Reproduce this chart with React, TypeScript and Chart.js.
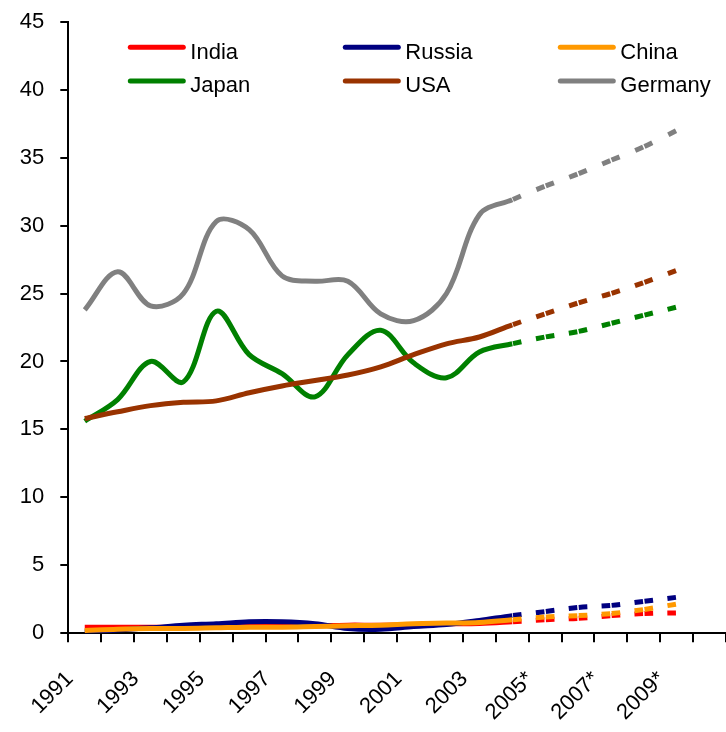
import { useEffect, useRef } from 'react';
import { Chart, registerables } from 'chart.js';

Chart.register(...registerables);

// Category axis: one entry per year, forecast years carry an asterisk.
const YEARS = [
  '1991', '1992', '1993', '1994', '1995', '1996', '1997', '1998', '1999', '2000',
  '2001', '2002', '2003', '2004', '2005*', '2006*', '2007*', '2008*', '2009*', '2010*',
];

// Index of the last measured year (2004); segments after it are forecasts.
const FORECAST_FROM = 13;

const INDIA = [0.45, 0.45, 0.45, 0.45, 0.45, 0.5, 0.5, 0.55, 0.6, 0.6, 0.65, 0.7, 0.72, 0.85, 1.0, 1.1, 1.3, 1.45, 1.5];
const RUSSIA = [0.1, 0.25, 0.4, 0.6, 0.7, 0.85, 0.85, 0.7, 0.35, 0.3, 0.5, 0.65, 0.95, 1.3, 1.6, 1.9, 2.05, 2.35, 2.65];
const CHINA = [0.2, 0.3, 0.35, 0.35, 0.4, 0.45, 0.45, 0.5, 0.55, 0.6, 0.7, 0.75, 0.8, 1.0, 1.2, 1.3, 1.45, 1.75, 2.15];
const JAPAN = [15.6, 17.2, 20.0, 18.5, 23.7, 20.5, 19.1, 17.4, 20.5, 22.3, 19.9, 18.8, 20.7, 21.3, 21.8, 22.2, 22.8, 23.4, 24.0];
const USA = [15.8, 16.3, 16.75, 17.0, 17.1, 17.7, 18.2, 18.6, 19.0, 19.6, 20.5, 21.3, 21.8, 22.7, 23.5, 24.3, 25.0, 25.8, 26.7];
const GERMANY = [23.8, 26.6, 24.1, 25.0, 30.3, 29.7, 26.3, 25.9, 25.9, 23.5, 23.0, 25.0, 30.8, 31.9, 32.9, 33.8, 34.8, 35.8, 37.0];

const SERIES = [
  { label: 'India', data: INDIA, color: '#FF0000' },
  { label: 'Russia', data: RUSSIA, color: '#000080' },
  { label: 'China', data: CHINA, color: '#FF9900' },
  { label: 'Japan', data: JAPAN, color: '#008000' },
  { label: 'USA', data: USA, color: '#993300' },
  { label: 'Germany', data: GERMANY, color: '#808080' },
];

const FONT = '"Liberation Sans", Arial, sans-serif';

// Forecast segments: a pair of short dashes centred on every data point.
const DASH = 8.5;
const SPLIT = 1.4;

function forecastDash(ctx: any) {
  if (ctx.p0DataIndex < FORECAST_FROM) return undefined;
  const len = Math.hypot(ctx.p1.x - ctx.p0.x, ctx.p1.y - ctx.p0.y);
  return [DASH, SPLIT, DASH, Math.max(1, len - 2 * DASH - SPLIT)];
}

function forecastDashOffset(ctx: any) {
  return ctx.p0DataIndex < FORECAST_FROM ? undefined : DASH + SPLIT / 2;
}

// Legend drawn inside the plot, three columns by two rows.
const insideLegend = {
  id: 'insideLegend',
  afterDatasetsDraw(chart: any) {
    const { ctx, chartArea } = chart;
    ctx.save();
    ctx.font = `22px ${FONT}`;
    ctx.textBaseline = 'alphabetic';
    ctx.textAlign = 'left';
    chart.data.datasets.forEach((ds: any, i: number) => {
      const col = i % 3;
      const row = Math.floor(i / 3);
      const x = chartArea.left + 62 + col * 215;
      const y = chartArea.top + 25.5 + row * 33.7;
      ctx.strokeStyle = ds.borderColor;
      ctx.lineWidth = 5;
      ctx.lineCap = 'round';
      ctx.setLineDash([]);
      ctx.beginPath();
      ctx.moveTo(x, y);
      ctx.lineTo(x + 53, y);
      ctx.stroke();
      ctx.fillStyle = '#000';
      ctx.fillText(ds.label, x + 60, y + 11.5);
    });
    ctx.restore();
  },
};

export default function App() {
  const canvasRef = useRef<HTMLCanvasElement | null>(null);

  useEffect(() => {
    const canvas = canvasRef.current;
    if (!canvas) return;
    const chart = new Chart(canvas, {
      type: 'line',
      data: {
        labels: YEARS,
        datasets: SERIES.map((s, i) => ({
          label: s.label,
          data: s.data,
          borderColor: s.color,
          backgroundColor: s.color,
          borderWidth: 5,
          pointRadius: 0,
          tension: 0.35,
          fill: false,
          order: SERIES.length - i,
          borderCapStyle: 'butt',
          borderJoinStyle: 'round',
          segment: {
            borderDash: forecastDash,
            borderDashOffset: forecastDashOffset,
          },
        })),
      },
      options: {
        responsive: false,
        animation: false,
        layout: { padding: { top: 21.7, right: 0, bottom: 0, left: 0 } },
        plugins: {
          legend: { display: false },
          tooltip: { enabled: false },
        },
        scales: {
          x: {
            type: 'category',
            offset: true,
            grid: {
              offset: true,
              drawOnChartArea: false,
              drawTicks: true,
              tickLength: 9,
              color: '#000',
              lineWidth: 2,
            },
            border: { color: '#000', width: 2 },
            ticks: {
              autoSkip: false,
              minRotation: 45,
              maxRotation: 45,
              padding: 24,
              labelOffset: -15,
              color: '#000',
              font: { family: FONT, size: 22 },
              callback: (_v: any, i: number) => (i % 2 === 0 ? YEARS[i] : ''),
            },
            afterFit: (scale: any) => {
              scale.height = 98.7;
              scale.paddingLeft = 0;
              scale.paddingRight = 0;
            },
          },
          y: {
            min: 0,
            max: 45,
            ticks: {
              stepSize: 5,
              padding: 16,
              color: '#000',
              font: { family: FONT, size: 22 },
            },
            grid: {
              drawOnChartArea: false,
              drawTicks: true,
              tickLength: 8,
              color: '#000',
              lineWidth: 2,
            },
            border: { color: '#000', width: 2 },
            afterFit: (scale: any) => {
              scale.width = 68.3;
              scale.paddingTop = 0;
              scale.paddingBottom = 0;
            },
          },
        },
      },
      plugins: [insideLegend],
    });
    return () => chart.destroy();
  }, []);

  return (
    <div style={{ position: 'absolute', left: 0, top: 0, width: 726, height: 732, background: '#fff' }}>
      <canvas ref={canvasRef} width={726} height={732} style={{ display: 'block' }} />
    </div>
  );
}
